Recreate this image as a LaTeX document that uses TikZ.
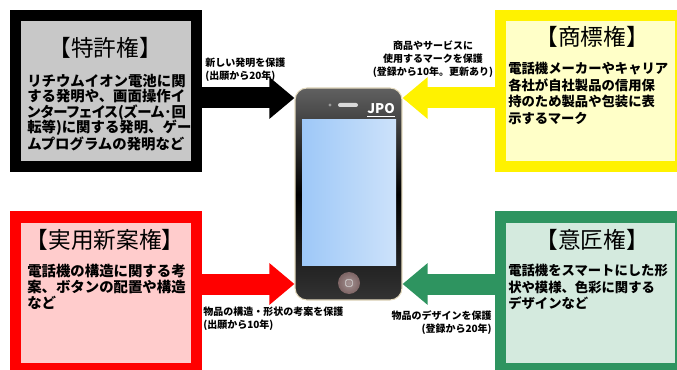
\documentclass[tikz,border=0pt]{standalone}
\usepackage{fontspec}
\newfontfamily\jp{Noto Sans CJK JP}
\usetikzlibrary{arrows.meta}

\definecolor{patentgray}{RGB}{200,200,200}
\definecolor{markpale}{RGB}{255,255,200}
\definecolor{utilpink}{RGB}{255,204,204}
\definecolor{designgreen}{RGB}{46,148,96}
\definecolor{designpale}{RGB}{212,234,222}
\definecolor{screenleft}{RGB}{158,200,248}
\definecolor{screenright}{RGB}{205,226,250}
\definecolor{phonerim}{RGB}{228,218,190}
\definecolor{homebrown}{RGB}{125,100,100}

\begin{document}
\begin{tikzpicture}[x=0.75pt,y=-0.75pt,
rightbox/.style ={rectangle, line width=8.25pt, inner sep=0pt,
  minimum width=135.5pt, minimum height=113.25pt
},
boxtitle/.style ={inner sep=0pt, font=\jp\fontsize{17pt}{18pt}\selectfont},
boxtext/.style ={anchor=north west, inner sep=0pt, align=left,
  font=\jp\bfseries\fontsize{10.8pt}{11.6pt}\selectfont
},
boxtextwide/.style ={boxtext,
  font=\jp\bfseries\fontsize{10pt}{12.4pt}\selectfont
},
note/.style ={inner sep=0pt, font=\jp\bfseries\fontsize{7.5pt}{9.75pt}\selectfont},
bigarrow/.style ={line width=15.75pt, -{Triangle[length=18.75pt,width=30pt]}}
]
\useasboundingbox (0,0) rectangle (677,370);

% the four rights
\node (patent) at (106,91) [rightbox, draw=black, fill=patentgray] {};
\node (mark) at (590.5,91) [rightbox, draw=yellow, fill=markpale] {};
\node (util) at (106,292.5) [rightbox, draw=red, fill=utilpink] {};
\node (design) at (590.5,292.5) [rightbox, draw=designgreen, fill=designpale] {};

\node (patentT) at (105,48) [boxtitle] {【特許権】};
\node (patentB) at (27,74) [boxtext] {リチウムイオン電池に関\\する発明や、画面操作イ\\{\addfontfeature{RawFeature=+palt}ンターフェイス(ズーム･回}\\転等)に関する発明、ゲー\\ムプログラムの発明など};

\node (markT) at (592,37) [boxtitle] {【商標権】};
\node (markB) at (508,62) [boxtextwide] {電話機メーカーやキャリア\\各社が自社製品の信用保\\持のため製品や包装に表\\示するマーク};

\node (utilT) at (105,240) [boxtitle] {【実用新案権】};
\node (utilB) at (27,264) [boxtext, font=\jp\bfseries\fontsize{10.8pt}{12pt}\selectfont] {電話機の構造に関する考\\案、ボタンの配置や構造\\など};

\node (designT) at (592,240) [boxtitle] {【意匠権】};
\node (designB) at (508,264) [boxtextwide] {電話機をスマートにした形\\状や模様、色彩に関する\\デザインなど};

% phone
\node (phone) at (348.5,194) [rectangle, rounded corners=9pt, draw=phonerim, line width=0.8pt,
  minimum width=80.25pt, minimum height=159pt,
  top color=black!62, bottom color=black!80, middle color=black] {};
\node (screen) at (349,192.5) [rectangle, inner sep=0pt, minimum width=70.5pt, minimum height=108.75pt,
  left color=screenleft, right color=screenright] {};
\node (speaker) at (348,105) [rectangle, rounded corners=1.5pt, inner sep=0pt,
  minimum width=15pt, minimum height=3pt, fill=black!15] {};
\node (camera) at (330,105) [circle, inner sep=0pt, minimum size=2.6pt, fill=black!40] {};
\node (jpo) at (381,109) [inner sep=0pt, text=white, font=\jp\bfseries\fontsize{10pt}{10pt}\selectfont] {JPO};
\draw[white, line width=0.6pt] ([yshift=-1.5pt]jpo.south west) -- ([yshift=-1.5pt]jpo.south east);
\node (home) at (349,283) [circle, inner sep=0pt, minimum size=16.5pt,
  inner color=homebrown!70!white, outer color=homebrown] {};
\node (homekey) at (home) [rectangle, rounded corners=1pt, draw=white!85!black, line width=0.5pt,
  inner sep=0pt, minimum size=5pt] {};

% arrows into the phone
\draw[bigarrow, black] (patent.east |- 0,98) -- (phone.west |- 0,98);
\draw[bigarrow, yellow] (mark.west |- 0,98) -- (phone.east |- 0,98);
\draw[bigarrow, red] (util.east |- 0,284) -- (phone.west |- 0,284);
\draw[bigarrow, designgreen] (design.west |- 0,284) -- (phone.east |- 0,284);

\node (patentL) at (205,58) [note, anchor=north west, align=left] {新しい発明を保護\\(出願から20年)};
\node (markL) at (433,41) [note, anchor=north, align=center] {商品やサービスに\\使用するマークを保護\\(登録から10年。更新あり)};
\node (utilL) at (203,307) [note, anchor=north west, align=left] {物品の構造・形状の考案を保護\\(出願から10年)};
\node (designL) at (492,310) [note, anchor=north east, align=right] {物品のデザインを保護\\(登録から20年)};

\end{tikzpicture}
\end{document}
